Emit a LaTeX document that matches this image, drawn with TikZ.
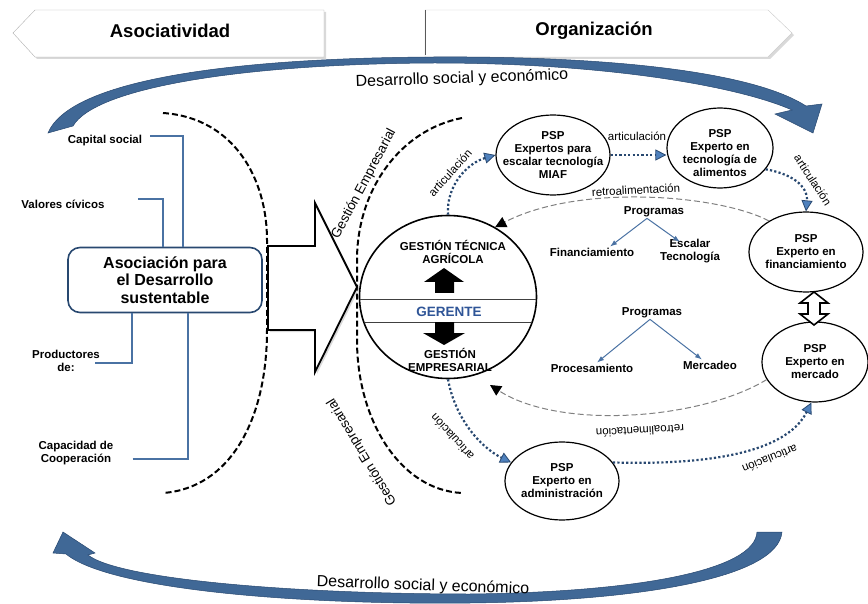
\documentclass[tikz,border=0pt]{standalone}
\usepackage{fontspec}
\setmainfont{Liberation Sans}
\usetikzlibrary{positioning, calc, shapes.geometric, arrows.meta, shadows}
\definecolor{azul}{RGB}{74,114,163}
\definecolor{azulosc}{RGB}{40,72,112}
\definecolor{flecha}{RGB}{64,104,150}
\definecolor{gerente}{RGB}{47,85,151}
\definecolor{punta}{RGB}{79,129,189}

\begin{document}
\begin{tikzpicture}[x=1pt, y=-1pt,
	psp/.style={ellipse, draw, line width=1.2pt, minimum width=114, minimum height=80, inner sep=0pt},
	lbl/.style={font=\bfseries\fontsize{11.5}{13}\selectfont, align=center, inner sep=1pt},
	etq/.style={font=\fontsize{11.5}{13}\selectfont, inner sep=1pt},
	arco/.style={font=\fontsize{13.5}{15}\selectfont, inner sep=1pt},
	artic/.style={draw=azulosc, line width=2.2pt, dash pattern=on 2.2pt off 2.2pt, -{Triangle[length=11pt, width=11pt, fill=punta, color=azulosc, line width=0.8pt]}},
	retro/.style={draw=gray, line width=1pt, dash pattern=on 6pt off 3pt, -{Triangle[length=11pt, width=11pt, black]}},
	rama/.style={draw=azul, line width=1pt, -{Latex[length=7pt, width=5pt]}},
	llave/.style={draw=azul, line width=2.4pt},
	borde/.style={draw=black, line width=2pt, dash pattern=on 6pt off 3pt},
	sombra/.style={drop shadow={opacity=0.3, shadow xshift=2pt, shadow yshift=-2pt}}]
	\useasboundingbox (0,0) rectangle (868,604);

	\draw[gray!60, fill=white, sombra] (35,10) -- (324,10) -- (324,57) -- (35,57) -- (13,33) -- cycle;
	\draw[gray!40, fill=white, sombra] (425,10) -- (768,10) -- (792,33) -- (768,57) -- (425,57) -- cycle;
	\draw[gray!70!black] (425,10) -- (425,55);
	\node[font=\bfseries\fontsize{18.5}{20}\selectfont] (asociat) at (170,31) {Asociatividad};
	\node[font=\bfseries\fontsize{18.5}{20}\selectfont] (organiz) at (594,31) {Organización};

	\fill[flecha, draw=azulosc, line width=0.5pt] (48,133) .. controls (70,80) and (230,58) .. (434,57) .. controls (600,56) and (750,70) .. (806,106) -- (822,104) -- (813,133) -- (775,114) -- (792,110) .. controls (735,85) and (600,63) .. (434,63) .. controls (240,64) and (95,88) .. (73,126) -- cycle;
	\fill[flecha, draw=azulosc, line width=0.5pt] (757,532) -- (782,532) .. controls (778,578) and (640,601) .. (470,603) .. controls (300,605) and (110,590) .. (66,554) -- (53,553) -- (63,532) -- (95,553) -- (88,555) .. controls (120,580) and (300,594) .. (470,594) .. controls (640,592) and (755,570) .. (757,532) -- cycle;
	\node[font=\fontsize{16}{18}\selectfont, rotate=2] (des1) at (462,79) {Desarrollo social y económico};
	\node[font=\fontsize{16}{18}\selectfont, rotate=-2] (des2) at (423,586) {Desarrollo social y económico};

	\draw[borde] (163,113) .. controls (235,118) and (267,180) .. (267,240) -- (267,330) .. controls (267,420) and (230,488) .. (163,493);
	\draw[borde] (462,118) .. controls (400,130) and (357,190) .. (357,260) -- (357,340) .. controls (357,420) and (400,490) .. (462,493);
	\node[arco, rotate=62] (ge1) at (364,184) {Gestión Empresarial};
	\node[arco, rotate=121] (ge2) at (362,452) {Gestión Empresarial};

	\node[draw=azulosc, line width=1.6pt, rounded corners=12pt, minimum width=194, minimum height=65, align=center, font=\bfseries\fontsize{16}{17.5}\selectfont] (asoc) at (165,280) {Asociación para\\el Desarrollo\\sustentable};
	\node[lbl] (capital) at (105,141) {Capital social};
	\node[lbl] (valores) at (63,204) {Valores cívicos};
	\node[lbl] (prod) at (66,361) {Productores\\de:};
	\node[lbl] (capac) at (76,453) {Capacidad de\\Cooperación};
	\draw[llave] ($(capital.east)+(7,-5)$) -| ([xshift=18pt]asoc.north);
	\draw[llave] ($(valores.east)+(32,-5)$) -| ([xshift=-2pt]asoc.north);
	\draw[llave] ($(prod.east)+(-6,2)$) -| ([xshift=-33pt]asoc.south);
	\draw[llave] ($(capac.east)+(18,6)$) -| ([xshift=23pt]asoc.south);

	\draw[line width=1.8pt, fill=white, sombra] (268,246) -- (315,246) -- (315,203) -- (357,287) -- (315,372) -- (315,330) -- (268,330) -- cycle;

	\node[ellipse, draw, line width=1.6pt, minimum width=177, minimum height=163, inner sep=0pt] (ger) at (448,297) {};
	\begin{scope}
		\clip (ger.center) ellipse [x radius=88, y radius=81];
		\draw[gray!50!black, line width=1pt] (350,300) -- (550,300) (350,322) -- (550,322);
	\end{scope}
	\node[lbl] (tecnica) at (453,252) {GESTIÓN TÉCNICA\\AGRÍCOLA};
	\node[font=\bfseries\fontsize{13.5}{15}\selectfont, text=gerente] (gte) at (449,312) {GERENTE};
	\node[lbl] (empresa) at (450,360) {GESTIÓN\\EMPRESARIAL};
	\fill (444,268) -- (464,282) -- (454,282) -- (454,293) -- (435,293) -- (435,282) -- (424,282) -- cycle;
	\fill (435,322) -- (454,322) -- (454,333) -- (465,333) -- (444,345) -- (423,333) -- (435,333) -- cycle;

	\node[psp] (miaf) at (553,155) {}; \node[lbl] at (miaf) {PSP\\Expertos para\\escalar tecnología\\MIAF};
	\node[psp, minimum width=106] (alim) at (720,148) {}; \node[lbl] at ([yshift=-5pt]alim) {PSP\\Experto en\\tecnología de\\alimentos};
	\node[psp] (fin) at (806,252) {}; \node[lbl] at (fin) {PSP\\Experto en\\financiamiento};
	\node[psp, minimum width=106] (merc) at (815,362) {}; \node[lbl] at (merc) {PSP\\Experto en\\mercado};
	\node[psp, minimum height=78] (adm) at (562,481) {}; \node[lbl] at (adm) {PSP\\Experto en\\administración};
	\draw[line width=1.6pt, fill=white] (814,292) -- (828,303) -- (820,303) -- (820,314) -- (828,314) -- (814,325) -- (800,314) -- (808,314) -- (808,303) -- (800,303) -- cycle;

	\draw[artic] (ger.north) .. controls (446,185) and (468,163) .. (miaf.west);
	\draw[artic] (miaf.east) -- (miaf.east -| alim.west);
	\draw[artic] (alim.-25) .. controls (798,175) and (808,190) .. (fin.north);
	\draw[artic] (adm.20) .. controls (700,465) and (785,455) .. (merc.265);
	\draw[artic] (ger.south) .. controls (455,418) and (480,447) .. (adm.160);
	\node[etq, rotate=48] at (450,173) {articulación};
	\node[etq] at (637,136) {articulación};
	\node[etq, rotate=-57] at (813,180) {articulación};
	\node[etq, rotate=202] at (770,459) {articulación};
	\node[etq, rotate=132] at (452,437) {articulación};

	\coordinate (r2fin) at (490,385);
	\draw[retro] (fin.140) .. controls (720,195) and (580,183) .. (ger.56);
	\draw[retro] (merc.200) .. controls (700,420) and (560,430) .. (r2fin);
	\node[etq, rotate=3] at (636,190) {retroalimentación};
	\node[etq, rotate=183] at (640,431) {retroalimentación};

	\node[lbl] (prog1) at (654,212) {Programas};
	\node[lbl] (finan) at (592,252) {Financiamiento};
	\node[lbl] (escal) at (690,251) {Escalar\\Tecnología};
	\draw[rama] ($(prog1.south)+(-7,0)$) -- ($(finan.north)+(18,0)$);
	\draw[rama] ($(prog1.south)+(-7,0)$) -- ($(escal.north)+(-10,4)$);
	\node[lbl] (prog2) at (652,313) {Programas};
	\node[lbl] (proc) at (592,368) {Procesamiento};
	\node[lbl] (merca) at (710,365) {Mercadeo};
	\draw[rama] ($(prog2.south)+(-2,0)$) -- ($(proc.north)+(5,0)$);
	\draw[rama] ($(prog2.south)+(-2,0)$) -- ($(merca.north)+(-8,0)$);
\end{tikzpicture}
\end{document}
